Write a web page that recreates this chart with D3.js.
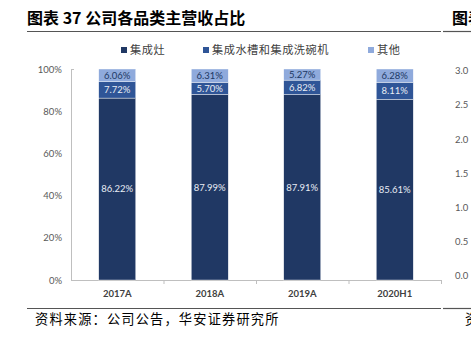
<!DOCTYPE html>
<html><head><meta charset="utf-8">
<script src="https://cdn.jsdelivr.net/npm/d3@7"></script>
<style>
body{margin:0;background:#fff;}
svg{display:block;}
</style></head>
<body>
<svg id="c" width="471" height="339"></svg>
<script>
const title = "图表 37 公司各品类主营收占比";
const source = "资料来源：公司公告，华安证券研究所";
const categories = ["2017A","2018A","2019A","2020H1"];
const seriesNames = ["集成灶","集成水槽和集成洗碗机","其他"];
const stove = [86.22, 87.99, 87.91, 85.61];
const sink = [7.72, 5.70, 6.82, 8.11];
const other = [6.06, 6.31, 5.27, 6.28];
const yTicks = [0,20,40,60,80,100];
const rightTicks = ["3.0","2.5","2.0","1.5","1.0","0.5","0.0"];
const colors = ["#203864","#2F5597","#8FAADC"];
const labelColors = ["#E8ECF4","#E8ECF4","#203864"];

const svg = d3.select("#c");
const cjk = "'Noto Sans CJK SC', sans-serif";
const num = "Lato, 'Open Sans', sans-serif";

// title
svg.append("text").attr("x",27).attr("y",24).attr("font-family",cjk)
  .attr("font-weight","bold").attr("font-size",16).attr("fill","#000").text(title);
svg.append("text").attr("x",452).attr("y",24).attr("font-family",cjk)
  .attr("font-weight","bold").attr("font-size",16).attr("fill","#000").text("图表");
svg.append("line").attr("x1",27).attr("x2",441).attr("y1",31.5).attr("y2",31.5).attr("stroke","#555").attr("stroke-width",1.2);
svg.append("line").attr("x1",443).attr("x2",471).attr("y1",31.5).attr("y2",31.5).attr("stroke","#555").attr("stroke-width",1.2);

// scales
const x = d3.scaleBand().domain(categories).range([71,441]).paddingInner(0.6).paddingOuter(0.3);
const y = d3.scaleLinear().domain([0,100]).range([280,69]);

// y axis
const yAxis = d3.axisLeft(y).tickValues(yTicks).tickFormat(d=>d+"%").tickSize(0).tickPadding(9);
const gy = svg.append("g").attr("transform","translate(71,0)").call(yAxis);
gy.select(".domain").attr("stroke","#BFBFBF");
gy.selectAll("text").attr("font-family",num).attr("font-size",9.5).attr("fill","#595959");
svg.append("line").attr("x1",71).attr("x2",74).attr("y1",69.5).attr("y2",69.5).attr("stroke","#BFBFBF");

// x axis
const band = d3.scaleBand().domain(categories).range([71,441]);
svg.append("line").attr("x1",71).attr("x2",441).attr("y1",280.5).attr("y2",280.5).attr("stroke","#BFBFBF");
const bounds = categories.map(c=>band(c)).concat([441]).slice(1);
svg.selectAll(".xt").data(bounds).join("line").attr("x1",d=>d+0.5).attr("x2",d=>d+0.5)
  .attr("y1",280).attr("y2",284).attr("stroke","#BFBFBF");
svg.selectAll(".xl").data(categories).join("text")
  .attr("x",d=>band(d)+band.bandwidth()/2).attr("y",297).attr("text-anchor","middle")
  .attr("font-family",num).attr("font-size",9.5).attr("font-weight","bold").attr("fill","#404040").text(d=>d);

// stacked bars
const rows = categories.map((c,i)=>({cat:c, s0:stove[i], s1:sink[i], s2:other[i]}));
const stack = d3.stack().keys(["s0","s1","s2"])(rows);
stack.forEach((layer,k)=>{
  svg.append("g").selectAll("rect").data(layer).join("rect")
    .attr("x",d=>x(d.data.cat)).attr("width",x.bandwidth())
    .attr("y",d=>y(d[1])).attr("height",d=>y(d[0])-y(d[1]))
    .attr("fill",colors[k]).attr("stroke","#fff").attr("stroke-width",0.4);
  svg.append("g").selectAll("text").data(layer).join("text")
    .attr("x",d=>x(d.data.cat)+x.bandwidth()/2)
    .attr("y",d=>(y(d[0])+y(d[1]))/2).attr("dy","0.36em")
    .attr("text-anchor","middle").attr("font-family",num).attr("font-size",9.5)
    .attr("fill",labelColors[k]).text(d=>(d[1]-d[0]).toFixed(2)+"%");
});

// legend
const legX = [121,203,368];
seriesNames.forEach((n,i)=>{
  svg.append("rect").attr("x",legX[i]).attr("y",47).attr("width",6).attr("height",6).attr("fill",colors[i]);
  svg.append("text").attr("x",legX[i]+9).attr("y",54).attr("font-family",cjk).attr("font-size",11.2)
    .attr("fill","#404040").attr("letter-spacing",0.5).text(n);
});

// right neighbor axis labels
const yr = d3.scalePoint().domain(rightTicks).range([71,276]);
svg.selectAll(".rt").data(rightTicks).join("text").attr("x",455).attr("y",d=>yr(d)).attr("dy","0.35em")
  .attr("font-family",num).attr("font-size",9.5).attr("fill","#595959").text(d=>d);

// bottom
svg.append("line").attr("x1",27).attr("x2",441).attr("y1",308.5).attr("y2",308.5).attr("stroke","#555").attr("stroke-width",1.2);
svg.append("line").attr("x1",443).attr("x2",471).attr("y1",308.5).attr("y2",308.5).attr("stroke","#555").attr("stroke-width",1.2);
svg.append("text").attr("x",35).attr("y",324).attr("font-family",cjk).attr("font-size",13.2)
  .attr("letter-spacing",1.2).attr("fill","#000").text(source);
svg.append("text").attr("x",465).attr("y",324).attr("font-family",cjk).attr("font-size",13.2).attr("fill","#000").text("资");
</script>
</body></html>
